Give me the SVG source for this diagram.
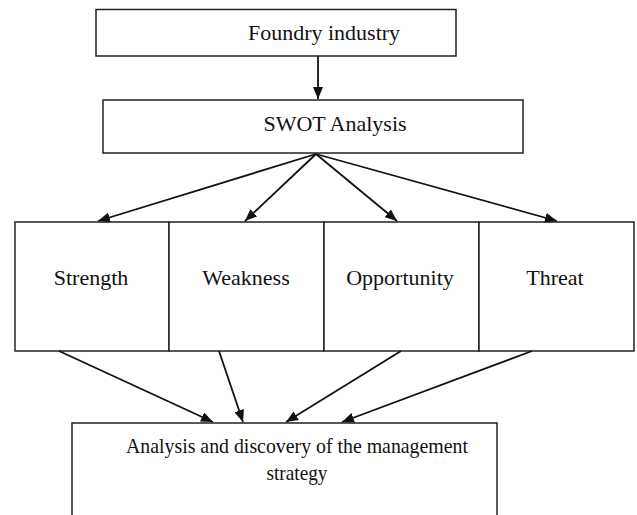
<svg xmlns="http://www.w3.org/2000/svg" width="637" height="515" viewBox="0 0 637 515">
  <style>
    .box { fill: #ffffff; stroke: #222222; stroke-width: 1.5; }
    .lbl { font-family: "Liberation Serif", "Times New Roman", serif; font-size: 22px; fill: #111111; text-anchor: middle; }
    .edge { stroke: #111111; stroke-width: 1.8; fill: none; marker-end: url(#arrow); }
  </style>
  <defs>
    <marker id="arrow" markerWidth="12" markerHeight="10" refX="12" refY="5" orient="auto" markerUnits="userSpaceOnUse">
      <path d="M0,0 L12,5 L0,10 Z" fill="#111111"/>
    </marker>
  </defs>
  <rect width="637" height="515" fill="#ffffff"/>

  <g id="foundry">
    <rect class="box" x="96" y="9.5" width="360" height="46.5"/>
    <text class="lbl" x="324" y="40">Foundry industry</text>
  </g>

  <g id="swot">
    <rect class="box" x="103" y="100" width="420" height="53"/>
    <text class="lbl" x="335" y="131">SWOT Analysis</text>
  </g>

  <g id="strength">
    <rect class="box" x="15" y="222" width="154" height="129"/>
    <text class="lbl" x="91" y="285">Strength</text>
  </g>
  <g id="weakness">
    <rect class="box" x="169" y="222" width="155" height="129"/>
    <text class="lbl" x="246" y="285">Weakness</text>
  </g>
  <g id="opportunity">
    <rect class="box" x="324" y="222" width="155" height="129"/>
    <text class="lbl" x="400" y="285">Opportunity</text>
  </g>
  <g id="threat">
    <rect class="box" x="479" y="222" width="155" height="129"/>
    <text class="lbl" x="555" y="285">Threat</text>
  </g>

  <g id="strategy">
    <rect class="box" x="72" y="423" width="425" height="100"/>
    <text class="lbl" x="297" y="453" textLength="342" lengthAdjust="spacingAndGlyphs">Analysis and discovery of the management</text>
    <text class="lbl" x="297" y="480" textLength="61" lengthAdjust="spacingAndGlyphs">strategy</text>
  </g>

  <g id="connectors">
    <line class="edge" x1="318" y1="56" x2="318" y2="99"/>
    <line class="edge" x1="316" y1="154" x2="98" y2="221"/>
    <line class="edge" x1="316" y1="154" x2="245" y2="221"/>
    <line class="edge" x1="316" y1="154" x2="397" y2="221"/>
    <line class="edge" x1="316" y1="154" x2="557" y2="221"/>
    <line class="edge" x1="59" y1="351" x2="213" y2="422"/>
    <line class="edge" x1="219" y1="351" x2="243" y2="422"/>
    <line class="edge" x1="401" y1="351" x2="286" y2="422"/>
    <line class="edge" x1="532" y1="351" x2="342" y2="422"/>
  </g>
</svg>
